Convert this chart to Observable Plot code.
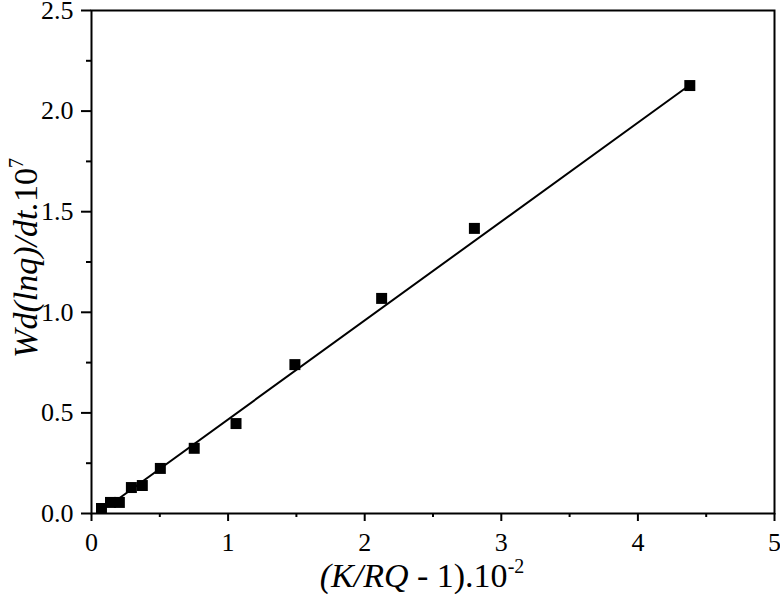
<!DOCTYPE html>
<html>
<head>
<meta charset="utf-8">
<script src="https://cdn.jsdelivr.net/npm/d3@7"></script>
<script src="https://cdn.jsdelivr.net/npm/@observablehq/plot@0.6"></script>
<style>
  html, body { margin: 0; padding: 0; background: #fff; }
  #chart svg { display: block; }
</style>
</head>
<body>
<div id="chart"></div>
<script>
// Data
const xVals = [0.073, 0.139, 0.204, 0.292, 0.372, 0.504, 0.752, 1.058, 1.489, 2.124, 2.803, 4.38];
const yVals = [0.025, 0.055, 0.055, 0.129, 0.139, 0.224, 0.324, 0.447, 0.740, 1.069, 1.417, 2.127];
// Fitted line endpoints (as drawn in the reference)
const fitX = [0.15, 4.36];
const fitY = [0.05, 2.12];
// Axis ticks
const xMajor = [0, 1, 2, 3, 4, 5];
const xMinor = [0.5, 1.5, 2.5, 3.5, 4.5];
const yMajor = [0, 0.5, 1.0, 1.5, 2.0, 2.5];
const yMinor = [0.25, 0.75, 1.25, 1.75, 2.25];

const points = xVals.map((x, i) => ({x, y: yVals[i]}));
const fit = fitX.map((x, i) => ({x, y: fitY[i]}));
const FONT = "'Liberation Serif'";

const plot = Plot.plot({
  width: 780,
  height: 594,
  marginLeft: 91,
  marginRight: 6,
  marginTop: 10,
  marginBottom: 81,
  style: {background: "white", color: "black", overflow: "visible"},
  x: {domain: [0, 5]},
  y: {domain: [0, 2.5]},
  marks: [
    Plot.frame({stroke: "black", strokeWidth: 2}),
    Plot.axisX({ticks: xMajor, tickSize: 8, tickPadding: 11, tickFormat: d => String(d), label: null, strokeWidth: 2, fontSize: 26, fontFamily: FONT}),
    Plot.axisX({ticks: xMinor, tickSize: 4, text: null, label: null, strokeWidth: 2}),
    Plot.axisY({ticks: yMajor, tickSize: 10, tickPadding: 8, tickFormat: d3.format(".1f"), label: null, strokeWidth: 2, fontSize: 26, fontFamily: FONT}),
    Plot.axisY({ticks: yMinor, tickSize: 5, text: null, label: null, strokeWidth: 2}),
    Plot.line(fit, {x: "x", y: "y", stroke: "black", strokeWidth: 2}),
    Plot.dot(points, {x: "x", y: "y", symbol: "square", r: 6.2, fill: "black", stroke: "none"})
  ]
});

document.getElementById("chart").appendChild(plot);

// Axis titles with italic parts and superscripts
const svg = d3.select(plot);

const xl = svg.append("text")
  .attr("x", 422).attr("y", 587)
  .attr("text-anchor", "middle")
  .attr("font-family", FONT).attr("font-size", 34).attr("fill", "black");
xl.append("tspan").attr("font-style", "italic").text("(K/RQ");
xl.append("tspan").text(" - 1).10");
xl.append("tspan").attr("font-size", 20).attr("dy", -14).text("-2");

const yl = svg.append("text")
  .attr("transform", "translate(37,258) rotate(-90)")
  .attr("text-anchor", "middle")
  .attr("font-family", FONT).attr("font-size", 34).attr("fill", "black");
yl.append("tspan").attr("font-style", "italic").text("Wd(lnq)/dt.");
yl.append("tspan").text("10");
yl.append("tspan").attr("font-size", 20).attr("dy", -14).text("7");
</script>
</body>
</html>
